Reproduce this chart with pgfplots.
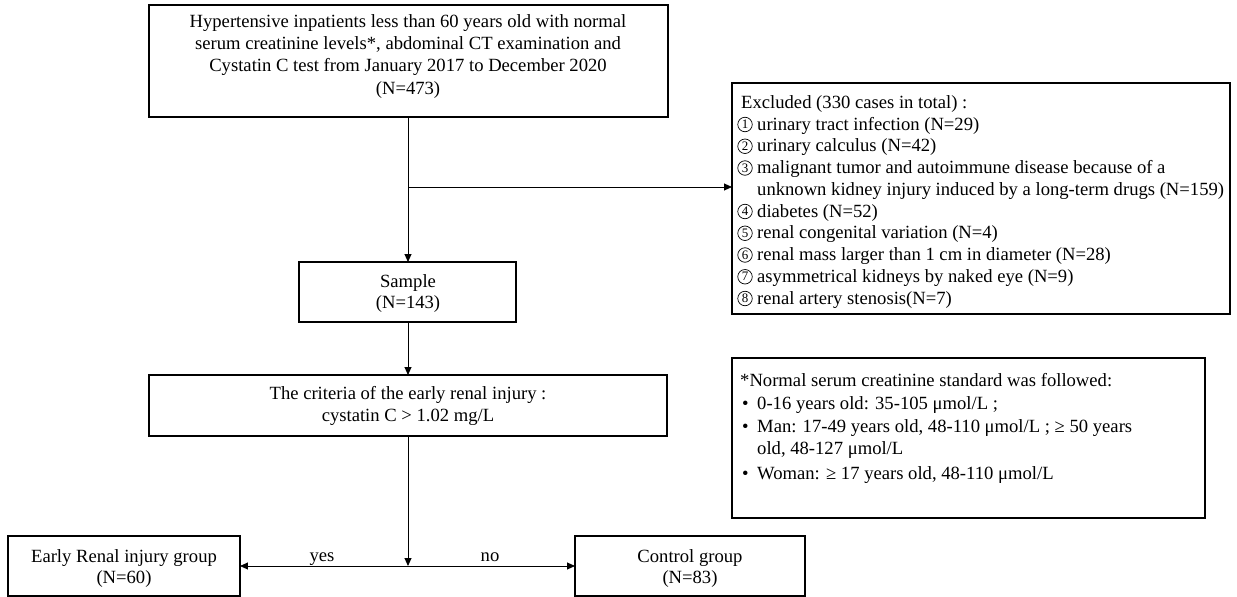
\documentclass[border=0pt]{standalone}
\usepackage{pgfplots}
\pgfplotsset{compat=1.18}
\usepackage{fontspec}
\setmainfont{Liberation Serif}
\usetikzlibrary{arrows.meta}
\tikzset{
  t/.style={font=\fontsize{18.7}{22}\selectfont, inner sep=0pt, anchor=base},
  tl/.style={font=\fontsize{18.7}{22}\selectfont, inner sep=0pt, anchor=base west},
  cc/.style={circle, draw=black, line width=0.7pt, minimum size=14.5bp, inner sep=0pt,
             font=\fontsize{13}{13}\selectfont},
}
\pgfplotsset{
  box/.style={black, line width=1.1pt, mark=none, line cap=rect, line join=miter},
  arr/.style={black, line width=0.9pt, mark=none, -{Triangle[length=8pt,width=7pt]}},
  arr2/.style={black, line width=0.9pt, mark=none, {Triangle[length=8pt,width=7pt]}-{Triangle[length=8pt,width=7pt]}},
}
\begin{document}
\begin{tikzpicture}
\begin{axis}[width=1237bp, height=597bp, scale only axis,
  xmin=0, xmax=1237, ymin=0, ymax=597, y dir=reverse,
  hide axis, clip=false]
\path (axis cs:0,0) rectangle (axis cs:1237,597);
% boxes
\addplot[box] coordinates {(149,5) (668,5) (668,117) (149,117) (149,5)};
\addplot[box] coordinates {(732,83) (1230,83) (1230,314) (732,314) (732,83)};
\addplot[box] coordinates {(299,262) (516,262) (516,322) (299,322) (299,262)};
\addplot[box] coordinates {(149,375) (667,375) (667,436) (149,436) (149,375)};
\addplot[box] coordinates {(732,358) (1205,358) (1205,518) (732,518) (732,358)};
\addplot[box] coordinates {(8,536) (240,536) (240,596) (8,596) (8,536)};
\addplot[box] coordinates {(575,536) (805,536) (805,596) (575,596) (575,536)};
% connectors
\addplot[arr] coordinates {(408,117) (408,262)};
\addplot[arr] coordinates {(408,187) (732,187)};
\addplot[arr] coordinates {(408,322) (408,375)};
\addplot[arr] coordinates {(408,436) (408,566)};
\addplot[arr2] coordinates {(240,566) (575,566)};
% top box text
\node[t] at (axis cs:408,28) {Hypertensive inpatients less than 60 years old with normal};
\node[t] at (axis cs:408,50) {serum creatinine levels*, abdominal CT examination and};
\node[t] at (axis cs:408,72) {Cystatin C test from January 2017 to December 2020};
\node[t] at (axis cs:408,94) {(N=473)};
% exclusion box
\node[tl] at (axis cs:741,108.3) {Excluded (330 cases in total) :};
\node[cc] at (axis cs:745,124.5) {1};
\node[tl] at (axis cs:757,130) {urinary tract infection (N=29)};
\node[cc] at (axis cs:745,146.25) {2};
\node[tl] at (axis cs:757,151.75) {urinary calculus (N=42)};
\node[cc] at (axis cs:745,168) {3};
\node[tl] at (axis cs:757,173.5) {malignant tumor and autoimmune disease because of a};
\node[tl] at (axis cs:757,195.25) {unknown kidney injury induced by a long-term drugs (N=159)};
\node[cc] at (axis cs:745,211.5) {4};
\node[tl] at (axis cs:757,217) {diabetes (N=52)};
\node[cc] at (axis cs:745,233.25) {5};
\node[tl] at (axis cs:757,238.75) {renal congenital variation (N=4)};
\node[cc] at (axis cs:745,255) {6};
\node[tl] at (axis cs:757,260.5) {renal mass larger than 1 cm in diameter (N=28)};
\node[cc] at (axis cs:745,276.75) {7};
\node[tl] at (axis cs:757,282.25) {asymmetrical kidneys by naked eye (N=9)};
\node[cc] at (axis cs:745,298.5) {8};
\node[tl] at (axis cs:757,304) {renal artery stenosis(N=7)};
% sample
\node[t] at (axis cs:408,287) {Sample};
\node[t] at (axis cs:408,308) {(N=143)};
% criteria
\node[t] at (axis cs:408,399) {The criteria of the early renal injury :};
\node[t] at (axis cs:408,421) {cystatin C > 1.02 mg/L};
% normal standard box
\node[tl] at (axis cs:740,386) {*Normal serum creatinine standard was followed:};
\node[tl] at (axis cs:742,409) {•};
\node[tl] at (axis cs:757,409) {0-16 years old: 35-105 μmol/L ;};
\node[tl] at (axis cs:742,432) {•};
\node[tl] at (axis cs:757,432) {Man: 17-49 years old, 48-110 μmol/L ; ≥ 50 years};
\node[tl] at (axis cs:757,454) {old, 48-127 μmol/L};
\node[tl] at (axis cs:742,479) {•};
\node[tl] at (axis cs:757,479) {Woman: ≥ 17 years old, 48-110 μmol/L};
% bottom boxes
\node[t] at (axis cs:124,562) {Early Renal injury group};
\node[t] at (axis cs:124,583) {(N=60)};
\node[t] at (axis cs:690,562) {Control group};
\node[t] at (axis cs:690,583) {(N=83)};
\node[t] at (axis cs:322,561) {yes};
\node[t] at (axis cs:490,561) {no};
\end{axis}
\end{tikzpicture}
\end{document}
